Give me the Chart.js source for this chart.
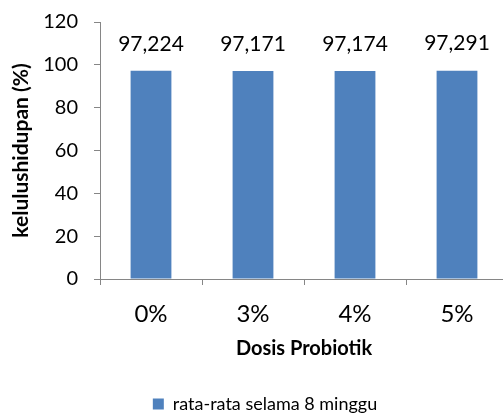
<!DOCTYPE html>
<html>
<head>
<meta charset="utf-8">
<script src="https://cdn.jsdelivr.net/npm/chart.js@4.4.0/dist/chart.umd.min.js"></script>
<style>
  html, body { margin: 0; padding: 0; background: #fff; overflow: hidden; }
  #wrap { width: 508px; height: 416px; }
</style>
</head>
<body>
<div id="wrap"><canvas id="c" width="508" height="416"></canvas></div>
<script>
// Survival rate per probiotic dose
const categories = ['0%', '3%', '4%', '5%'];
const survival = [97.224, 97.171, 97.174, 97.291];
const valueLabels = ['97,224', '97,171', '97,174', '97,291'];
const yTicks = [0, 20, 40, 60, 80, 100, 120];

const FONT = 'Lato, "Open Sans", sans-serif';
const AXIS = '#868686';

// Writes each value above its bar
const barValues = {
  id: 'barValues',
  afterDatasetsDraw(chart) {
    const ctx = chart.ctx;
    const meta = chart.getDatasetMeta(0);
    ctx.save();
    ctx.font = '21px ' + FONT;
    ctx.fillStyle = '#000';
    ctx.textAlign = 'center';
    ctx.textBaseline = 'middle';
    meta.data.forEach((bar, i) => {
      ctx.fillText(valueLabels[i], bar.x, bar.y - 27);
    });
    ctx.restore();
  }
};

// Nudges the legend a little to the right of the canvas centre
const legendShift = {
  id: 'legendShift',
  afterLayout(chart) {
    chart.legend.left += 11;
    chart.legend.right += 11;
  }
};

new Chart(document.getElementById('c'), {
  type: 'bar',
  data: {
    labels: categories,
    datasets: [{
      label: 'rata-rata selama 8 minggu',
      data: survival,
      backgroundColor: '#4F81BD',
      borderWidth: 0,
      categoryPercentage: 1,
      barPercentage: 0.4
    }]
  },
  options: {
    responsive: false,
    animation: false,
    layout: { padding: { top: 22, left: 0, right: 0, bottom: -7 } },
    plugins: {
      tooltip: { enabled: false },
      legend: {
        position: 'bottom',
        labels: {
          font: { family: FONT, size: 18 },
          color: '#000',
          boxWidth: 11,
          boxHeight: 11,
          padding: 4
        }
      }
    },
    scales: {
      y: {
        min: 0,
        max: 120,
        afterBuildTicks(scale) { scale.ticks = yTicks.map(v => ({ value: v })); },
        afterFit(scale) {
          scale.width = 100;
          scale.paddingTop = 0;
          scale.paddingBottom = 0;
        },
        ticks: { font: { family: FONT, size: 20 }, color: '#000', padding: 16 },
        grid: { drawOnChartArea: false, drawTicks: true, tickLength: 6, color: AXIS },
        border: { color: AXIS, width: 1 },
        title: {
          display: true,
          text: 'kelulushidupan (%)',
          font: { family: FONT, size: 21, weight: 'bold' },
          color: '#000',
          padding: { top: 9, bottom: 0 }
        }
      },
      x: {
        afterFit(scale) { scale.height = 112; },
        ticks: { font: { family: FONT, size: 24 }, color: '#000', padding: 15 },
        grid: { drawOnChartArea: false, drawTicks: true, tickLength: 6, color: AXIS, offset: true },
        border: { color: AXIS, width: 1 },
        title: {
          display: true,
          text: 'Dosis Probiotik',
          font: { family: FONT, size: 20, weight: 'bold' },
          color: '#000',
          padding: { top: 8, bottom: 30 }
        }
      }
    }
  },
  plugins: [barValues, legendShift]
});
</script>
</body>
</html>
